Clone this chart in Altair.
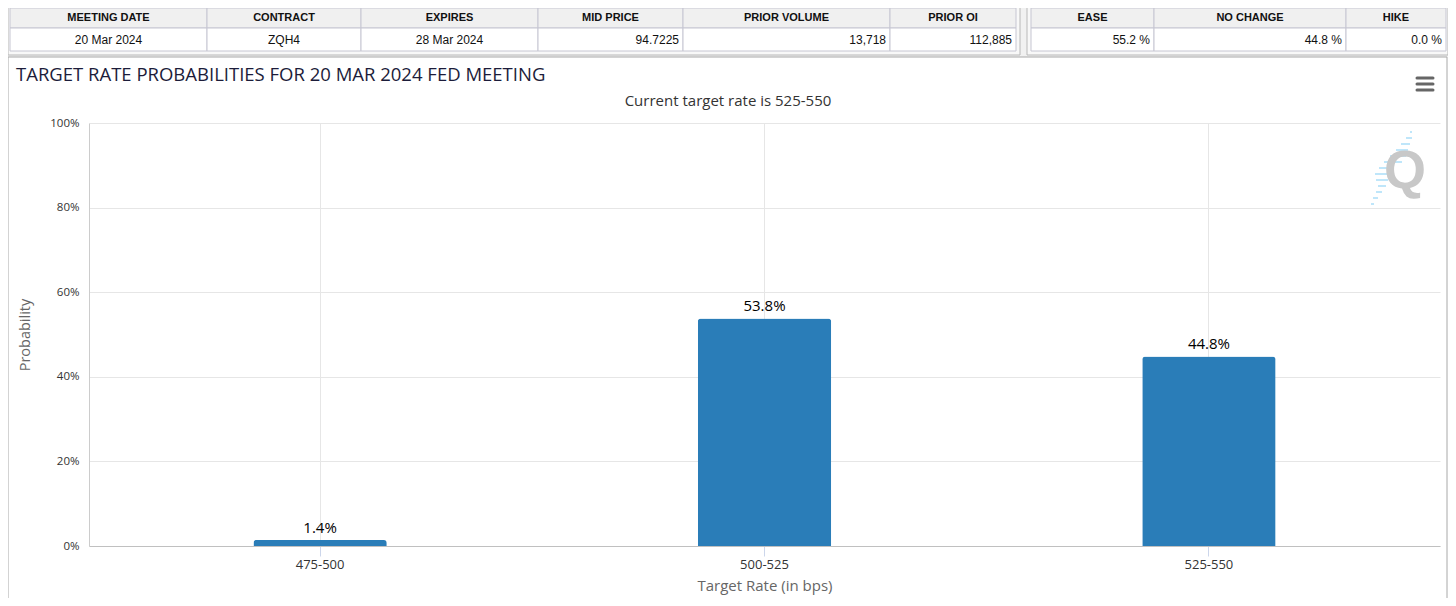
import altair as alt
import pandas as pd

# ---------------- data ----------------
categories = ["475-500", "500-525", "525-550"]
probabilities = [1.4, 53.8, 44.8]
bar_labels = ["1.4%", "53.8%", "44.8%"]
y_ticks = [0, 20, 40, 60, 80, 100]

title_text = ["TARGET RATE PROBABILITIES FOR 20 MAR 2024 FED MEETING"]
subtitle_text = ["Current target rate is 525-550"]
x_title = "Target Rate (in bps)"
y_title = "Probability"

t1_headers = ["MEETING DATE", "CONTRACT", "EXPIRES", "MID PRICE", "PRIOR VOLUME", "PRIOR OI"]
t1_values = ["20 Mar 2024", "ZQH4", "28 Mar 2024", "94.7225", "13,718", "112,885"]
t2_headers = ["EASE", "NO CHANGE", "HIKE"]
t2_values = ["55.2 %", "44.8 %", "0.0 %"]

# ---------------- layout (pixels, relative to plot origin) ----------------
W, H = 1351, 423
T1_EDGES = [-79, 118, 272, 449, 594, 801, 927]
T2_EDGES = [942, 1065, 1257, 1357]
T1_ALIGN = ["center", "center", "center", "right", "right", "right"]
T2_ALIGN = ["right", "right", "right"]
ROW_TOP, ROW_MID, ROW_BOT = -115, -95, -72
FONT = "Open Sans"
TFONT = "Liberation Sans"
BAR_COLOR = "#2a7db8"

main_df = pd.DataFrame({"rate": categories, "prob": probabilities, "label": bar_labels})


def table_rows(headers, values, edges, aligns):
    rows = []
    for i, (h, v, a) in enumerate(zip(headers, values, aligns)):
        x0, x1 = edges[i], edges[i + 1]
        rows.append({"h": h, "v": v, "align": a, "x0": x0, "x1": x1,
                     "xc": (x0 + x1) / 2, "vx": (x0 + x1) / 2 if a == "center" else x1 - 4})
    return rows


cells = pd.DataFrame(table_rows(t1_headers, t1_values, T1_EDGES, T1_ALIGN)
                     + table_rows(t2_headers, t2_values, T2_EDGES, T2_ALIGN))
one = pd.DataFrame({"k": [0]})


def px(field):
    return alt.X(field, type="quantitative", scale=None, axis=None)


def py(field):
    return alt.Y(field, type="quantitative", scale=None, axis=None)


# background strip & panels
bg = alt.Chart(one).mark_rect(fill="#f1f1f1").encode(
    x=alt.value(-90), x2=alt.value(1370), y=alt.value(-125), y2=alt.value(-66))
panels_df = pd.DataFrame({"x0": [-81, 938], "x1": [931, 1359]})
panels = alt.Chart(panels_df).mark_rect(fill="#f8f8f8", stroke="#b8b8b8", strokeWidth=1).encode(
    x=px("x0"), x2="x1", y=alt.value(-118), y2=alt.value(-68))

hdr_rect = alt.Chart(cells).mark_rect(fill="#f0f0f0", stroke="#c6c6d2", strokeWidth=1).encode(
    x=px("x0"), x2="x1", y=alt.value(ROW_TOP), y2=alt.value(ROW_MID))
val_rect = alt.Chart(cells).mark_rect(fill="#ffffff", stroke="#c6c6d2", strokeWidth=1).encode(
    x=px("x0"), x2="x1", y=alt.value(ROW_MID), y2=alt.value(ROW_BOT))
hdr_text = alt.Chart(cells).mark_text(font=TFONT, fontSize=11, fontWeight="bold", color="#111111",
                                      align="center", baseline="middle").encode(
    x=px("xc"), y=alt.value(-105), text="h:N")
val_c = alt.Chart(cells).transform_filter(alt.datum.align == "center").mark_text(
    font=TFONT, fontSize=12, color="#111111", align="center", baseline="middle").encode(
    x=px("vx"), y=alt.value(-83), text="v:N")
val_r = alt.Chart(cells).transform_filter(alt.datum.align == "right").mark_text(
    font=TFONT, fontSize=12, color="#111111", align="right", baseline="middle").encode(
    x=px("vx"), y=alt.value(-83), text="v:N")

# chart box
box = alt.Chart(one).mark_rect(fillOpacity=0, stroke="#a8a8a8", strokeWidth=1).encode(
    x=alt.value(-81), x2=alt.value(1358), y=alt.value(-66), y2=alt.value(480))

title = alt.Chart(pd.DataFrame({"t": title_text})).mark_text(
    font=FONT, fontSize=18.5, color="#1c1c3a", align="left", baseline="alphabetic").encode(
    x=alt.value(-73), y=alt.value(-42), text="t:N")
subtitle = alt.Chart(pd.DataFrame({"t": subtitle_text})).mark_text(
    font=FONT, fontSize=15, color="#333333", align="center", baseline="alphabetic").encode(
    x=alt.value(639), y=alt.value(-17), text="t:N")

# hamburger menu icon
menu_df = pd.DataFrame({"y": [-45, -39, -33]})
menu = alt.Chart(menu_df).mark_rule(color="#666666", strokeWidth=3, strokeCap="round").encode(
    x=alt.value(1328), x2=alt.value(1344), y=py("y"))

# watermark logo
dash_df = pd.DataFrame({
    "y": [9, 15, 21, 27, 33, 39, 45, 51, 57, 63, 69, 75, 81],
    "xa": [1321, 1317, 1312, 1307, 1301, 1295, 1290, 1286, 1287, 1289, 1287, 1284, 1282],
    "xb": [1323, 1323, 1321, 1319, 1317, 1313, 1305, 1303, 1299, 1297, 1293, 1289, 1285],
})
dashes = alt.Chart(dash_df).mark_rule(color="#bfe6fa", strokeWidth=2).encode(
    x=px("xa"), x2="xb", y=py("y"))
logo = alt.Chart(one).mark_text(text="Q", font="Liberation Sans", fontSize=54, fontWeight="bold",
                                color="#c8c8c8", align="center", baseline="middle").encode(
    x=alt.value(1316), y=alt.value(49))

# main chart
x_enc = alt.X("rate:N", sort=categories,
              scale=alt.Scale(paddingInner=0, paddingOuter=0.02),
              axis=alt.Axis(title=x_title, titleFont=FONT, titleFontSize=15, titleFontWeight="normal",
                            titleColor="#666666", titlePadding=7, labelFont=FONT, labelFontSize=13,
                            labelColor="#333333", labelAngle=0, labelPadding=2, tickSize=10,
                            tickColor="#ccd6eb", domainColor="#c0c0c0", grid=True,
                            gridColor="#e6e6e6", bandPosition=0.5))
y_enc = alt.Y("prob:Q", scale=alt.Scale(domain=[0, 100], nice=False),
              axis=alt.Axis(title=y_title, values=y_ticks, labelExpr="datum.value + '%'",
                            titleFont=FONT, titleFontSize=14.5, titleFontWeight="normal",
                            titleColor="#666666", titlePadding=17, labelFont=FONT, labelFontSize=11.5,
                            labelColor="#333333", labelPadding=10, ticks=False, domain=True,
                            domainColor="#cccccc", gridColor="#e6e6e6"))

bars = alt.Chart(main_df).mark_bar(color=BAR_COLOR, width=alt.RelativeBandSize(0.3),
                                   cornerRadiusTopLeft=3, cornerRadiusTopRight=3).encode(
    x=x_enc, y=y_enc)
labels = alt.Chart(main_df).mark_text(font=FONT, fontSize=15, color="#000000", baseline="bottom",
                                      dy=-4).encode(
    x=alt.X("rate:N", sort=categories), y=alt.Y("prob:Q"), text="label:N")

chart = alt.layer(bg, panels, hdr_rect, val_rect, hdr_text, val_c, val_r, box, title, subtitle,
                  menu, dashes, logo, bars, labels).properties(
    width=W, height=H,
    autosize=alt.AutoSizeParams(type="none"),
    padding={"left": 81, "top": 115, "right": 8, "bottom": 52},
    background="#ffffff",
).configure_view(strokeWidth=0)

chart.save("out.html", embed_options={"renderer": "svg", "actions": False})
